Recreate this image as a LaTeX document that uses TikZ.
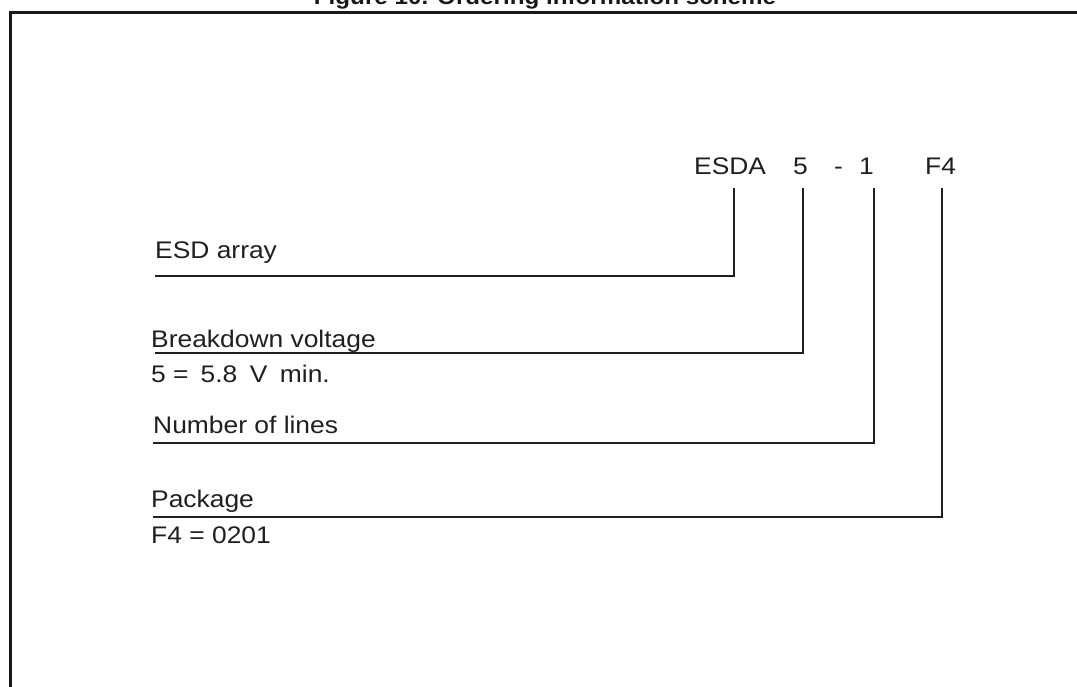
\documentclass[tikz,border=0pt]{standalone}
\usepackage{fontspec}
\setmainfont[FakeStretch=1.1]{Liberation Sans}
\usetikzlibrary{positioning}

\begin{document}
\begin{tikzpicture}[x=1pt,y=-1pt,
  lbl/.style={anchor=base west,inner sep=0pt,text=black!88,font=\fontsize{24}{28}\selectfont},
  lead/.style={draw=black!88,line width=2pt}]
\useasboundingbox (0,0) rectangle (1077,686);
\clip (0,0) rectangle (1077,686);
% frame and title
\node at (545,4)[anchor=base,inner sep=0pt,text=black!90,font=\bfseries\fontsize{22}{26}\selectfont](title){Figure 10. Ordering information scheme};
\draw[line width=2.6pt,black!90] (10.5,690) -- (10.5,12.5) -- (1080,12.5);
% part number
\node at (694,174)[lbl](esda){ESDA};
\node at (793,174)[lbl](v5){5};
\node at (834,174)[lbl](dash){-};
\node at (859,174)[lbl](n1){1};
\node at (925,174)[lbl](f4){F4};
% fields
\node at (155,258)[lbl](esd){ESD array};
\node at (151,347)[lbl](bv){Breakdown voltage};
\node at (151,382)[lbl](bvval){5 =\hspace{12pt}5.8\hspace{12.5pt}V\hspace{12.5pt}min.};
\node at (153,433)[lbl](nl){Number of lines};
\node at (151,507)[lbl](pk){Package};
\node at (151,543)[lbl](pkval){F4 = 0201};
% leads
\coordinate (tesda) at (734,188);
\coordinate (tv5) at (803,188);
\coordinate (tn1) at (874,188);
\coordinate (tf4) at (942,188);
\coordinate (eesd) at (155,276);
\coordinate (ebv) at (155,353);
\coordinate (enl) at (153,443);
\coordinate (epk) at (153,517);
\draw[lead] (tesda) |- (eesd);
\draw[lead] (tv5) |- (ebv);
\draw[lead] (tn1) |- (enl);
\draw[lead] (tf4) |- (epk);
\end{tikzpicture}
\end{document}
